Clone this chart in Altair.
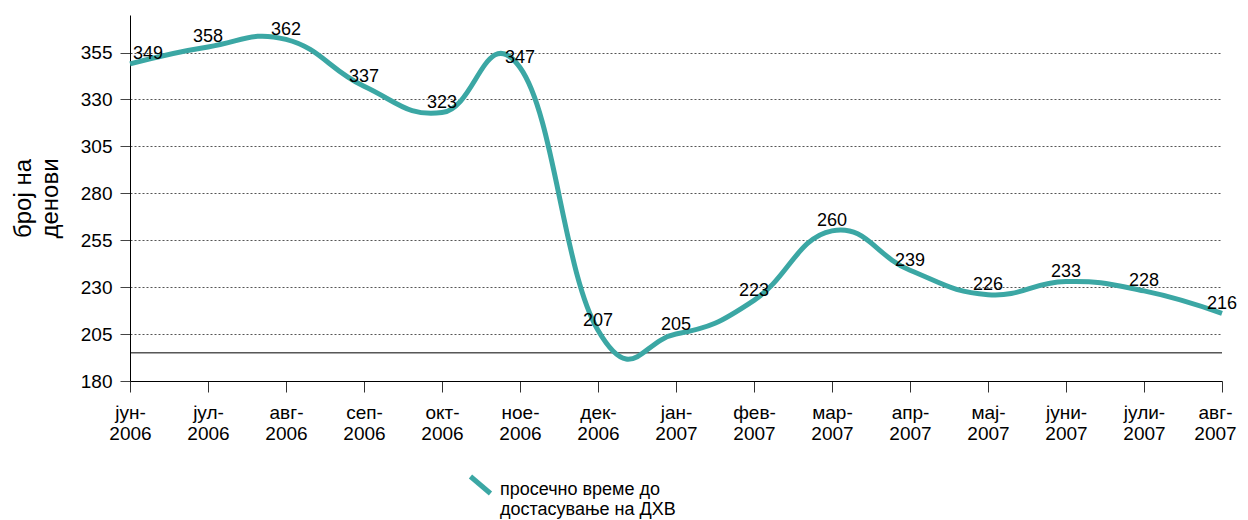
import altair as alt
import pandas as pd

months = ["јун-2006", "јул-2006", "авг-2006", "сеп-2006", "окт-2006", "ное-2006",
          "дек-2006", "јан-2007", "фев-2007", "мар-2007", "апр-2007", "мај-2007",
          "јуни-2007", "јули-2007", "авг-2007"]
values = [349, 358, 362, 337, 323, 347, 207, 205, 223, 260, 239, 226, 233, 228, 216]
series_name = "просечно време до\nдостасување на ДХВ"
y_ticks = [180, 205, 230, 255, 280, 305, 330, 355]
y_domain = [180, 375]
ref_level = [195]

FONT = "Liberation Sans"
TEAL = "#3BA7A4"

df = pd.DataFrame({"month": months, "value": values, "series": series_name})
df["idx"] = range(len(df))
ref_df = pd.DataFrame({"level": ref_level})

last_month = months[-1]

x_enc = alt.X(
    "month:N", sort=months,
    scale=alt.Scale(type="point", padding=0),
    axis=alt.Axis(
        title=None,
        labelExpr="[split(datum.label,'-')[0] + '-', split(datum.label,'-')[1]]",
        labelAngle=0, labelFont=FONT, labelFontSize=19, labelLineHeight=21,
        labelBaseline="top", labelPadding=11, labelColor="black",
        labelOffset={"condition": {"test": f"datum.value == '{last_month}'", "value": -7},
                     "value": 0},
        tickSize=11, tickColor="#333", domainColor="black", domainWidth=1,
        grid=False,
    ),
)
y_enc = alt.Y(
    "value:Q",
    scale=alt.Scale(domain=y_domain, nice=False, zero=False),
    axis=alt.Axis(
        values=y_ticks, title=["број на", "денови"],
        titleFont=FONT, titleFontSize=24, titleFontWeight="normal", titleColor="black",
        titleLineHeight=27, titleAngle=270, titleX=-107, titleY=183,
        titleBaseline="middle", titleAlign="center",
        labelFont=FONT, labelFontSize=19, labelPadding=8, labelColor="black",
        tickSize=10, tickColor="#444", domainColor="black", domainWidth=1,
        grid=True, gridDash=[2, 2], gridColor="#555", gridWidth=1,
    ),
)

line = alt.Chart(df).mark_line(
    interpolate="cardinal", tension=-0.33, strokeWidth=5, strokeCap="butt"
).encode(
    x=x_enc, y=y_enc,
    color=alt.Color(
        "series:N", scale=alt.Scale(range=[TEAL]),
        legend=alt.Legend(
            title=None, orient="none", legendX=338, legendY=453,
            labelExpr="split(datum.label, '\\n')",
            labelFont=FONT, labelFontSize=18, labelColor="black",
            labelBaseline="top", labelOffset=7, labelLimit=400,
            symbolType="M-1,-0.4L1,1.3", symbolSize=400, symbolStrokeWidth=5,
            symbolStrokeColor=TEAL, padding=0,
        ),
    ),
)

ref = alt.Chart(ref_df).mark_rule(color="black", strokeWidth=1).encode(
    y=alt.Y("level:Q", scale=alt.Scale(domain=y_domain, nice=False, zero=False))
)

label_style = dict(font=FONT, fontSize=18, color="black", baseline="middle", dy=-9.5)
labels = alt.Chart(df).transform_filter("datum.idx > 0").mark_text(
    align="center", **label_style
).encode(x=alt.X("month:N", sort=months), y="value:Q", text="value:Q")
first_label = alt.Chart(df).transform_filter("datum.idx == 0").mark_text(
    align="left", dx=3, **label_style
).encode(x=alt.X("month:N", sort=months), y="value:Q", text="value:Q")

chart = alt.layer(ref, line, labels, first_label).properties(
    width=1092, height=366,
    autosize=alt.AutoSizeParams(type="none"),
    padding={"left": 122, "top": 7, "right": 18, "bottom": 139},
).configure_view(stroke=None)

chart.save("out.html", embed_options={"renderer": "svg", "actions": False})
